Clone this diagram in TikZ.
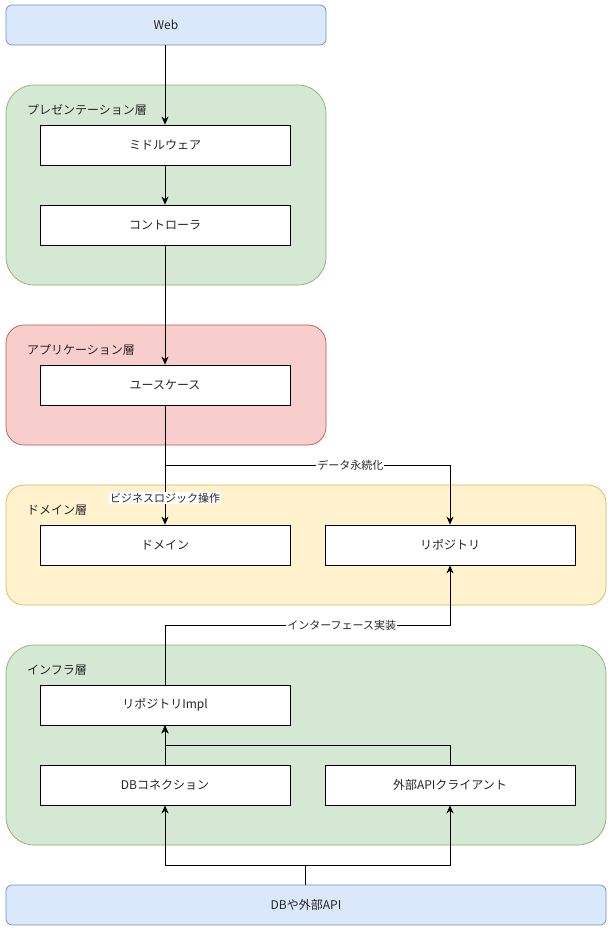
\documentclass[tikz,border=0pt]{standalone}
\usepackage{fontspec}
\setmainfont{Noto Sans CJK JP}
\usetikzlibrary{arrows.meta}
\begin{document}
\begin{tikzpicture}[x=1pt,y=-1pt,
  every node/.style={font=\fontsize{12}{14}\selectfont, text=black!85},
  layer/.style={draw=#1!70!black, line width=0.7pt},
  box/.style={draw=black, fill=white, line width=0.8pt, minimum width=250pt, minimum height=40pt, inner sep=0pt},
  endbox/.style={draw=blue!40!gray, fill=blue!12, rounded corners=6pt, line width=0.7pt, inner sep=0pt},
  lbl/.style={anchor=west, inner sep=0pt},
  elbl/.style={fill=white, inner sep=1pt, font=\fontsize{11}{13}\selectfont},
  arr/.style={draw=black, line width=0.8pt, -{Stealth[length=8pt,width=7pt,inset=2.5pt]}},
  ln/.style={draw=black, line width=0.8pt}]
\useasboundingbox (0,0) rectangle (611,932);
% layers
\draw[fill={rgb,255:red,213;green,232;blue,212}, draw={rgb,255:red,130;green,179;blue,102}, rounded corners=28pt, line width=0.7pt] (6,85) rectangle (326,285);
\draw[fill={rgb,255:red,248;green,206;blue,204}, draw={rgb,255:red,184;green,84;blue,80}, rounded corners=18pt, line width=0.7pt] (6,325) rectangle (326,445);
\draw[fill={rgb,255:red,255;green,242;blue,204}, draw={rgb,255:red,214;green,182;blue,86}, rounded corners=18pt, line width=0.7pt] (6,485) rectangle (606,605);
\draw[fill={rgb,255:red,213;green,232;blue,212}, draw={rgb,255:red,130;green,179;blue,102}, rounded corners=28pt, line width=0.7pt] (6,645) rectangle (606,845);
\node[lbl] (lp) at (27,110) {プレゼンテーション層};
\node[lbl] (la) at (27,350) {アプリケーション層};
\node[lbl] (ld) at (27,510) {ドメイン層};
\node[lbl] (li) at (27,670) {インフラ層};
% end boxes
\node[endbox, fill={rgb,255:red,218;green,232;blue,252}, draw={rgb,255:red,108;green,142;blue,191}, minimum width=320pt, minimum height=40pt] (web) at (166,25) {Web};
\node[endbox, fill={rgb,255:red,218;green,232;blue,252}, draw={rgb,255:red,108;green,142;blue,191}, minimum width=600pt, minimum height=40pt] (db) at (306,905) {DBや外部API};
% boxes
\node[box] (mw) at (165,145) {ミドルウェア};
\node[box] (ct) at (165,225) {コントローラ};
\node[box] (uc) at (165,385) {ユースケース};
\node[box] (dm) at (165,545) {ドメイン};
\node[box] (rp) at (450,545) {リポジトリ};
\node[box] (ri) at (165,705) {リポジトリImpl};
\node[box] (dc) at (165,785) {DBコネクション};
\node[box] (ec) at (450,785) {外部APIクライアント};
% connectors
\coordinate (f1) at (165,465);
\coordinate (f2) at (450,465);
\coordinate (g1) at (165,625);
\coordinate (g2) at (450,625);
\coordinate (h1) at (450,745);
\coordinate (h2) at (165,745);
\coordinate (k0) at (305,865);
\coordinate (k1) at (165,865);
\coordinate (k2) at (450,865);
\draw[arr] (web.south -| mw.north) -- (mw.north);
\draw[arr] (mw) -- (ct);
\draw[arr] (ct) -- (uc);
\draw[arr] (uc) -- (dm) node[elbl, pos=0.78] (l1) {ビジネスロジック操作};
\draw[arr] (uc.south) -- (f1) -- (f2) node[elbl, pos=0.65] (l2) {データ永続化} -- (rp.north);
\draw[arr] (ri.north) -- (g1) -- (g2) node[elbl, pos=0.62] (l3) {インターフェース実装} -- (rp.south);
\draw[arr] (dc) -- (ri);
\draw[arr] (ec.north) -- (h1) -- (h2) -- (ri.south);
\draw[arr] (db.north -| k0) -- (k0) -- (k1) -- (dc.south);
\draw[arr] (k0) -- (k2) -- (ec.south);
\end{tikzpicture}
\end{document}
